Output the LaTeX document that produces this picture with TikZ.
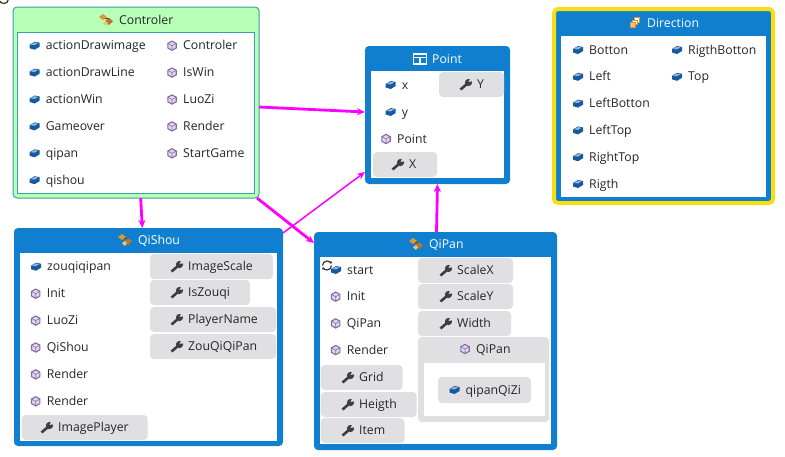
\documentclass[tikz,border=0pt]{standalone}
\usepackage{xcolor}
\usepackage{fontspec}
\setmainfont{Open Sans}
\usepackage{tikz}
\usetikzlibrary{arrows.meta,positioning,calc}
\definecolor{classblue}{RGB}{16,127,207}
\definecolor{mintgreen}{RGB}{184,255,184}
\definecolor{tealedge}{RGB}{58,160,165}
\definecolor{pillgray}{RGB}{224,224,226}
\definecolor{fieldblue}{RGB}{20,90,160}
\definecolor{methodpurple}{RGB}{135,105,170}
\definecolor{wrenchgray}{RGB}{62,62,62}
\definecolor{typeorange}{RGB}{225,150,50}
\definecolor{linkmagenta}{RGB}{255,0,255}
\definecolor{enumyellow}{RGB}{248,222,20}
\newcommand{\memberrow}[5]{%
  \pic at (#3-11,#4) {#1};
  \node[rowtext] (#2) at (#3,#4) {#5};
}
\newcommand{\proppill}[6]{%
  \node[pill,minimum width=#4] (#1) at (#2,#3) {};
  \pic at (#5-11,#3+12.5) {wrenchicon};
  \node[rowtext] (#1text) at (#5,#3+12.5) {#6};
}
\begin{document}
\begin{tikzpicture}[
  x=1pt,y=-1pt,
  outerbox/.style={rectangle,rounded corners=4pt,fill=classblue,anchor=north west,
    inner sep=0pt,outer sep=0pt},
  innerbox/.style={rectangle,fill=white,anchor=north west,inner sep=0pt,outer sep=0pt},
  rowtext/.style={anchor=west,inner sep=0pt,text height=9pt,text depth=3pt,yshift=-1pt,
    font=\fontsize{12.25}{14}\selectfont,text=black!85},
  headtext/.style={rowtext,text=white},
  pill/.style={rectangle,rounded corners=4pt,fill=pillgray,anchor=north west,
    inner sep=0pt,outer sep=0pt,minimum height=25pt},
  thicklink/.style={-{Stealth[length=8pt,width=7pt]},color=linkmagenta,line width=2.8pt},
  thinlink/.style={-{Stealth[length=8pt,width=7pt]},color=linkmagenta,line width=1.5pt},
  fieldicon/.pic={
    \fill[fieldblue] (-5,-1) -- (0,-4) -- (5,-3) -- (5,1) -- (0,4) -- (-5,2.5) -- cycle;
    \fill[fieldblue!45!white] (-4,-1) -- (0,-3.3) -- (3.5,-2.6) -- (0,-0.6) -- cycle;
  },
  methodicon/.pic={
    \draw[methodpurple,fill=methodpurple!25!white,line width=1.1pt]
      (0,-4.6) -- (4.2,-2.3) -- (4.2,2.3) -- (0,4.6) -- (-4.2,2.3) -- (-4.2,-2.3) -- cycle;
    \draw[methodpurple,line width=.6pt] (-4.2,-2.3) -- (0,0) -- (4.2,-2.3) (0,0) -- (0,4.6);
  },
  wrenchicon/.pic={
    \draw[wrenchgray,line width=2.6pt] (-5.5,5) -- (1.5,-1);
    \fill[wrenchgray] (2.5,-2) circle[radius=3.6pt];
    \fill[pillgray] (2.5,-2.6) -- (5,-7) -- (8,-3.5) -- cycle;
  },
  refreshicon/.pic={
    \draw[black!80,line width=1.2pt,-{Stealth[length=2.5pt,width=3pt]}] (-4.5,0) arc[start angle=180,end angle=20,radius=4.5pt];
    \draw[black!80,line width=1.2pt,-{Stealth[length=2.5pt,width=3pt]}] (4.5,0) arc[start angle=0,end angle=-160,radius=4.5pt];
  },
  typeicon/.pic={
    \draw[wrenchgray,line width=.7pt] (-3,-2) -- (3,-2) -- (3,3);
    \fill[typeorange] (-7,-3) -- (-3,-6) -- (1,-3) -- (-3,0) -- cycle;
    \fill[typeorange!80!black] (-1,1) -- (3,-2) -- (7,1) -- (3,5) -- cycle;
    \fill[typeorange!60!white] (-3,3) -- (0,1) -- (2,3) -- (0,6) -- cycle;
  },
  structicon/.pic={
    \draw[white,line width=1.2pt] (-6.5,-5) rectangle (6.5,5) (-6.5,-1.5) -- (6.5,-1.5) (0,-1.5) -- (0,5);
  },
  enumicon/.pic={
    \draw[typeorange,fill=white,line width=1pt] (-1,-5.5) rectangle (4.5,-1);
    \draw[typeorange,fill=white,line width=1pt] (-3,-3) rectangle (2.5,1.5);
    \draw[typeorange,fill=typeorange!60!white,line width=1pt] (-5,-.5) rectangle (.5,4.5);
  }
]
  \useasboundingbox (0,0) rectangle (785,456);
  \pic at (4,-1) {refreshicon};

  \node[outerbox,fill=mintgreen,draw=tealedge,line width=1pt,minimum width=246,minimum height=191] (controlerbox) at (13,7) {};
  \node[innerbox,draw=tealedge,line width=1pt,minimum width=237,minimum height=161] (controlerinner) at (17,32) {};
  \pic at (106,20) {typeicon};
  \node[rowtext] (controlerhead) at (119,20) {Controler};
  \foreach \t [count=\i,evaluate=\i as \y using {45.7+26.9*(\i-1)}] in {actionDrawimage,actionDrawLine,actionWin,Gameover,qipan,qishou}
    {\memberrow{fieldicon}{ctl\t}{45.6}{\y}{\t}}
  \foreach \t [count=\i,evaluate=\i as \y using {45.7+26.9*(\i-1)}] in {Controler,IsWin,LuoZi,Render,StartGame}
    {\memberrow{methodicon}{ctlm\t}{183}{\y}{\t}}

  \node[outerbox,minimum width=269,minimum height=218] (qishoubox) at (14,228) {};
  \node[innerbox,minimum width=257,minimum height=188] (qishouinner) at (20,253) {};
  \pic at (125,240) {typeicon};
  \node[headtext] (qishouhead) at (138,240) {QiShou};
  \memberrow{fieldicon}{qszouqiqipan}{47}{266.7}{zouqiqipan}
  \foreach \t [count=\i,evaluate=\i as \y using {293.7+26.9*(\i-1)}] in {Init,LuoZi,QiShou,Render,Render}
    {\memberrow{methodicon}{qsm\i}{46.7}{\y}{\t}}
  \proppill{qsimagescale}{150}{254}{123}{188}{ImageScale}
  \proppill{qsiszouqi}{150}{280}{100}{188}{IsZouqi}
  \proppill{qsplayername}{150}{307}{126}{188}{PlayerName}
  \proppill{qszouqi}{150}{334}{126}{188}{ZouQiQiPan}
  \proppill{qsimageplayer}{21.7}{415}{126}{58}{ImagePlayer}

  \node[outerbox,minimum width=243,minimum height=218] (qipanbox) at (314,232) {};
  \node[innerbox,minimum width=231,minimum height=187] (qipaninner) at (320,257) {};
  \pic at (416,244) {typeicon};
  \node[headtext] (qipanhead) at (429,244) {QiPan};
  \memberrow{fieldicon}{qpstart}{347}{270}{start}
  \pic at (327,265.5) {refreshicon};
  \foreach \t [count=\i,evaluate=\i as \y using {296.7+26.7*(\i-1)}] in {Init,QiPan,Render}
    {\memberrow{methodicon}{qpm\i}{346.7}{\y}{\t}}
  \proppill{qpgrid}{320.7}{365}{82}{359}{Grid}
  \proppill{qpheigth}{320.7}{392}{96}{359}{Heigth}
  \proppill{qpitem}{320.7}{418}{84}{359}{Item}
  \proppill{qpscalex}{418}{258}{95}{457}{ScaleX}
  \proppill{qpscaley}{418}{284}{95}{457}{ScaleY}
  \proppill{qpwidth}{418}{311}{93}{457}{Width}
  \node[pill,minimum width=131,minimum height=85] (qpnested) at (418,337) {};
  \node[innerbox,minimum width=121,minimum height=53] (qpnestedinner) at (424,363) {};
  \memberrow{methodicon}{qpnestedhead}{476}{349}{QiPan}
  \node[pill,minimum width=93,minimum height=26] (qpqizi) at (438,377) {};
  \memberrow{fieldicon}{qpqizitext}{465.5}{390}{qipanQiZi}

  \node[outerbox,minimum width=145,minimum height=138] (pointbox) at (365,46) {};
  \node[innerbox,minimum width=133,minimum height=107] (pointinner) at (371,71) {};
  \pic at (420,59) {structicon};
  \node[headtext] (pointhead) at (432,59) {Point};
  \memberrow{fieldicon}{ptx}{401.7}{85}{x}
  \memberrow{fieldicon}{pty}{401.7}{112}{y}
  \memberrow{methodicon}{ptpoint}{397}{139}{Point}
  \proppill{ptpropx}{373}{152}{64}{409}{X}
  \proppill{ptpropy}{439}{72}{65}{477}{Y}

  \node[outerbox,draw=enumyellow,line width=4pt,minimum width=219,minimum height=194] (directionbox) at (554,9) {};
  \node[innerbox,minimum width=205,minimum height=161] (directioninner) at (561,36) {};
  \pic at (635,23) {enumicon};
  \node[headtext] (directionhead) at (647,23) {Direction};
  \foreach \t [count=\i,evaluate=\i as \y using {50+26.8*(\i-1)}] in {Botton,Left,LeftBotton,LeftTop,RightTop,Rigth}
    {\memberrow{fieldicon}{dir\t}{589}{\y}{\t}}
  \foreach \t [count=\i,evaluate=\i as \y using {50+26.8*(\i-1)}] in {RigthBotton,Top}
    {\memberrow{fieldicon}{dir\t}{688}{\y}{\t}}

  \draw[thicklink] ([yshift=-4.5pt]controlerbox.east) -- ([yshift=3pt]pointbox.west);
  \draw[thicklink] ([xshift=4.7pt]controlerbox.south) -- ([xshift=-6.2pt]qishoubox.north);
  \draw[thicklink] ([xshift=-2pt]controlerbox.south east) -- ([yshift=-11pt]qipanbox.north west);
  \draw[thinlink] ([yshift=-5pt]qishoubox.north east) -- ([yshift=12pt]pointbox.south west);
  \draw[thicklink] ([xshift=1pt]qipanbox.north) -- (pointbox.south);
\end{tikzpicture}
\end{document}
